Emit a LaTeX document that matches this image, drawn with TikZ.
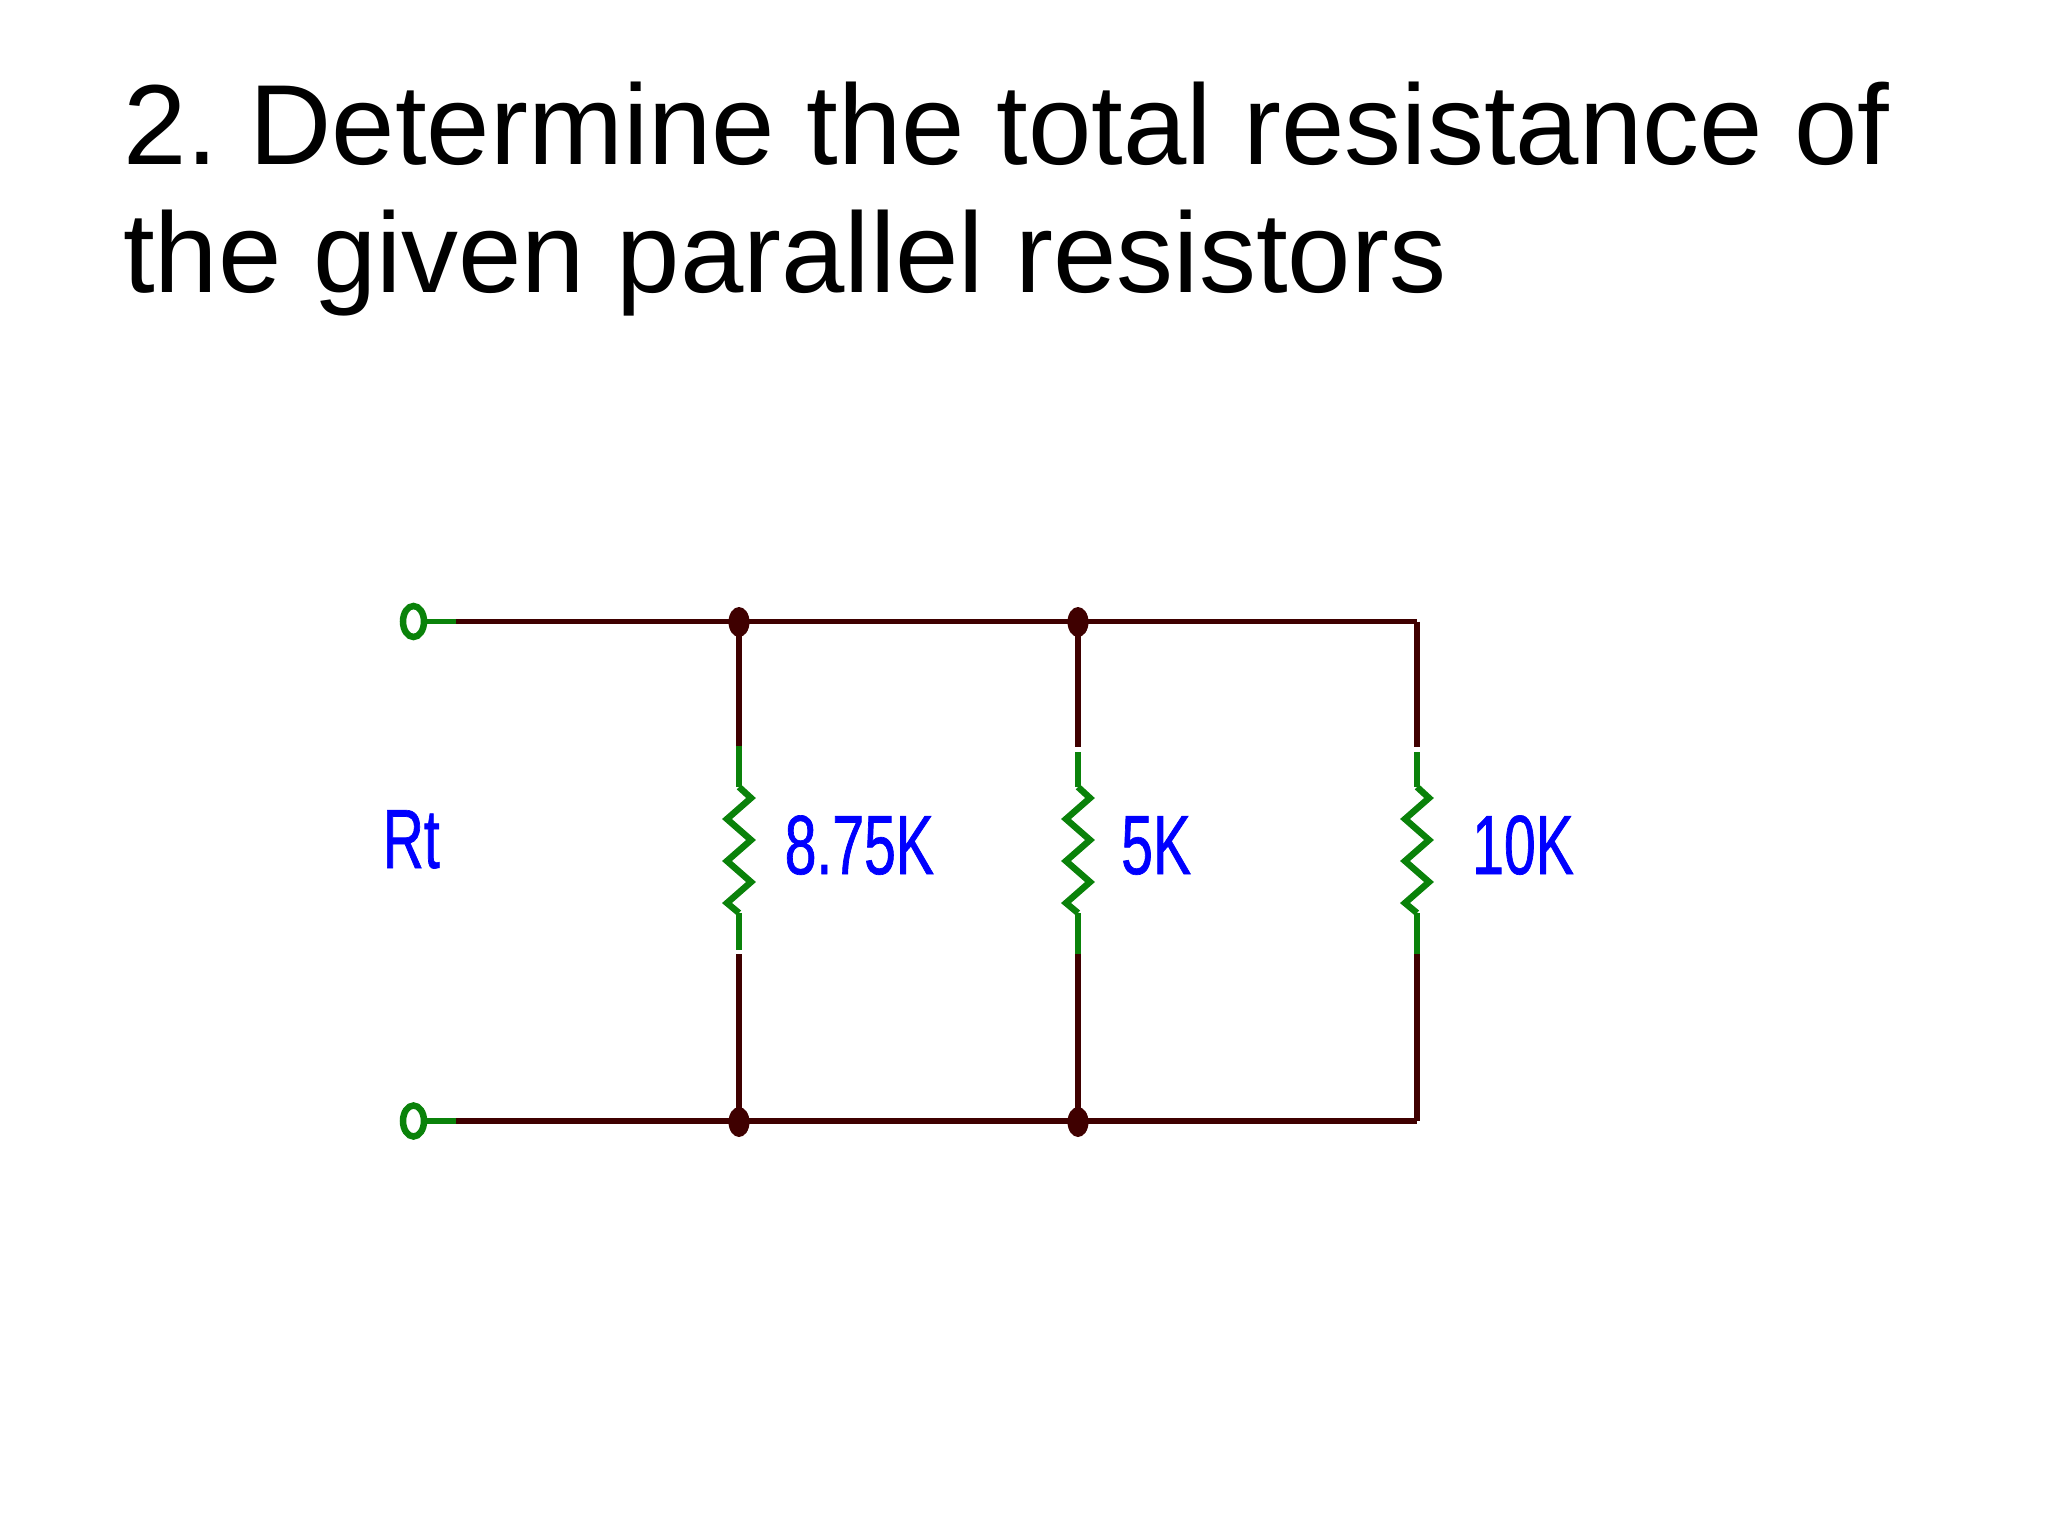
\documentclass[tikz,border=0pt]{standalone}
\usepackage{fontspec}
\setmainfont{Liberation Sans}
\newfontfamily\condfont[FakeStretch=0.68,FakeBold=0.8]{Liberation Sans}
\usetikzlibrary{shapes.geometric}
\definecolor{wirebrown}{HTML}{3F0000}
\definecolor{partgreen}{HTML}{0A820A}
\definecolor{labelblue}{HTML}{0000FF}
\tikzset{
  x=1pt,y=-1pt,
  wire/.style={draw=wirebrown,line width=5.5pt},
  part/.style={draw=partgreen,line width=5.5pt,line join=miter},
  zigzag/.style={part,line width=6.5pt},
  terminal/.style={ellipse,draw=partgreen,line width=6.5pt,fill=white,minimum width=21pt,minimum height=31pt,inner sep=0pt},
  junction/.style={ellipse,fill=wirebrown,minimum width=21pt,minimum height=30pt,inner sep=0pt},
  title/.style={anchor=north west,inner sep=0pt,align=left,font=\fontsize{113.9}{128}\selectfont\frenchspacing},
  value/.style={anchor=base west,inner sep=0pt,text=labelblue,font=\fontsize{84}{90}\condfont},
}
\begin{document}
\begin{tikzpicture}
\useasboundingbox (0,0) rectangle (2048,1536);
\node[title] (heading) at (123,82) {2. Determine the total resistance of\\the given parallel resistors};

% terminals, junctions, corners
\node[terminal] (t1) at (413.5,621.5) {};
\node[terminal] (t2) at (413.5,1121) {};
\coordinate (s1) at (456,621.5);
\coordinate (s2) at (456,1121);
\coordinate (c1) at (1417,621.5);
\coordinate (c2) at (1417,1121);
\coordinate (b1) at (739,621.5);
\coordinate (b2) at (1078,621.5);
\coordinate (b3) at (739,1121);
\coordinate (b4) at (1078,1121);

\draw[part] (t1) -- (s1);
\draw[part] (t2) -- (s2);
\draw[wire] (s1) -- (c1);
\draw[wire] (s2) -- (c2);
\draw[wire] (c1) -- (1417,747);
\draw[wire] (c2) -- (1417,954);
\draw[wire] (b1) -- (739,746);
\draw[wire] (b3) -- (739,954);
\draw[wire] (b2) -- (1078,747);
\draw[wire] (b4) -- (1078,954);

% resistors
\foreach \rx/\gt/\gb in {739/746/950,1078/752/954,1417/752/954}{
  \draw[part] (\rx,\gt) -- (\rx,787);
  \draw[zigzag] (\rx,787) -- ++(12,11) -- ++(-24,21) -- ++(24,21) -- ++(-24,21) -- ++(24,21) -- ++(-24,21) -- (\rx,913);
  \draw[part] (\rx,913) -- (\rx,\gb);
}

\node[junction] (j1) at (739,622) {};
\node[junction] (j2) at (1078,622) {};
\node[junction] (j3) at (739,1122) {};
\node[junction] (j4) at (1078,1122) {};

\node[value] (rt) at (382.5,868) {Rt};
\node[value] (r1) at (784.5,874) {8.75K};
\node[value] (r2) at (1121,874) {5K};
\node[value] (r3) at (1472,874) {10K};
\end{tikzpicture}
\end{document}
